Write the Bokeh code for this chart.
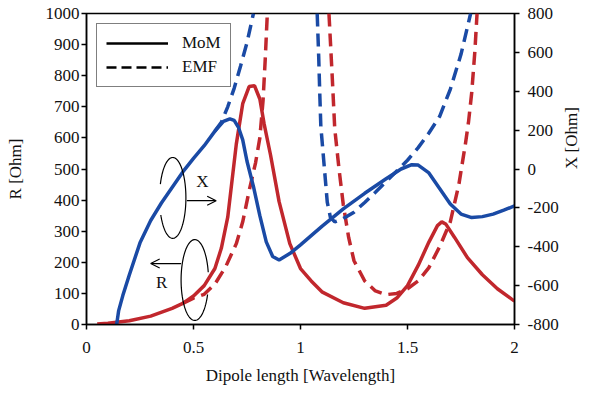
import numpy as np
from bokeh.plotting import figure
from bokeh.models import (Range1d, LinearAxis, FixedTicker, CustomJSTickFormatter,
                          Arrow, OpenHead, Label, Legend)
from bokeh.embed import file_html
from bokeh.resources import INLINE

# ---------------- data ----------------
# Resistance R [Ohm], MoM (solid red, left axis)
x_R_mom = [0.05, 0.1, 0.2, 0.3, 0.4, 0.45, 0.5, 0.55, 0.6, 0.63, 0.66, 0.7, 0.73, 0.76,
           0.785, 0.81, 0.83, 0.86, 0.9, 0.95, 1.0, 1.05, 1.1, 1.2, 1.3, 1.4, 1.45, 1.5,
           1.55, 1.6, 1.64, 1.66, 1.68, 1.72, 1.78, 1.85, 1.92, 2.0]
R_mom = [2, 4, 12, 27, 52, 68, 92, 125, 180, 245, 345, 580, 710, 765,
         768, 725, 645, 545, 395, 260, 180, 140, 105, 70, 52, 62, 85, 125,
         190, 265, 318, 330, 322, 280, 215, 160, 115, 75]

# Resistance R [Ohm], EMF (dashed red) - two branches
x_R_emf1 = [0.45, 0.5, 0.55, 0.6, 0.65, 0.7, 0.73, 0.76, 0.79, 0.81, 0.825, 0.835, 0.845]
R_emf1 = [68, 85, 97, 130, 185, 260, 330, 430, 520, 600, 720, 850, 1000]
x_R_emf2 = [1.133, 1.148, 1.16, 1.18, 1.2, 1.225, 1.25, 1.3, 1.35, 1.4, 1.45, 1.5, 1.55,
            1.6, 1.65, 1.7, 1.74, 1.77, 1.785, 1.8, 1.815, 1.825]
R_emf2 = [1000, 800, 630, 500, 385, 280, 205, 140, 108, 96, 100, 115, 140,
          183, 250, 330, 450, 578, 650, 745, 880, 1000]

# Reactance X [Ohm], MoM (solid blue, right axis)
x_X_mom = [0.141, 0.15, 0.17, 0.2, 0.25, 0.3, 0.35, 0.4, 0.45, 0.5, 0.55, 0.6, 0.64, 0.67,
           0.69, 0.71, 0.73, 0.75, 0.78, 0.81, 0.84, 0.87, 0.9, 0.95, 1.0, 1.1, 1.2, 1.3,
           1.4, 1.47, 1.52, 1.55, 1.6, 1.65, 1.7, 1.75, 1.8, 1.85, 1.9, 1.95, 2.0]
X_mom = [-800, -730, -650, -545, -380, -265, -175, -95, -15, 55, 120, 195, 245, 258,
         250, 215, 150, 40, -90, -240, -375, -450, -468, -435, -390, -295, -205, -125,
         -50, 0, 22, 20, -20, -100, -180, -232, -250, -245, -232, -212, -190]

# Reactance X [Ohm], EMF (dashed blue) - two branches
x_X_emf1 = [0.6, 0.63, 0.66, 0.69, 0.72, 0.75, 0.78]
X_emf1 = [195, 240, 320, 415, 530, 650, 800]
x_X_emf2 = [1.078, 1.085, 1.09, 1.095, 1.11, 1.125, 1.14, 1.16, 1.2, 1.25, 1.3, 1.35,
            1.4, 1.45, 1.5, 1.55, 1.6, 1.65, 1.7, 1.75, 1.795]
X_emf2 = [800, 580, 390, 220, 25, -170, -250, -272, -255, -222, -172, -120,
          -65, -10, 45, 110, 185, 270, 410, 590, 800]

x_ticks = [0, 0.5, 1, 1.5, 2]
R_ticks = [0, 100, 200, 300, 400, 500, 600, 700, 800, 900, 1000]
X_ticks = [-800, -600, -400, -200, 0, 200, 400, 600, 800]

# ---------------- styling ----------------
FONT = "Liberation Serif"
FS = "17px"
RED = "#c1272d"
BLUE = "#1a4aa5"
LW = 3.5
DASH = "13 7"

p = figure(width=594, height=394, output_backend="svg", toolbar_location=None,
           x_range=Range1d(0, 2), y_range=Range1d(0, 1000),
           min_border_left=86, min_border_right=80, min_border_top=13, min_border_bottom=70)
p.extra_y_ranges = {"xr": Range1d(-800, 800)}
p.xgrid.visible = False
p.ygrid.visible = False
p.outline_line_color = "black"
p.outline_line_width = 1.5
p.background_fill_color = "white"
p.border_fill_color = "white"

fmt = CustomJSTickFormatter(code="return String(tick);")


def style_axis(ax, ticks):
    ax.ticker = FixedTicker(ticks=ticks)
    ax.formatter = fmt
    ax.axis_line_color = "black"
    ax.axis_line_width = 1.5
    ax.major_tick_line_color = "black"
    ax.major_tick_line_width = 1.5
    ax.major_tick_in = 0
    ax.major_tick_out = 5
    ax.minor_tick_line_color = None
    ax.major_label_text_font = FONT
    ax.major_label_text_font_size = FS
    ax.major_label_text_color = "#111111"
    ax.axis_label_text_font = FONT
    ax.axis_label_text_font_size = FS
    ax.axis_label_text_font_style = "normal"
    ax.axis_label_text_color = "#111111"


xa = p.xaxis[0]
style_axis(xa, x_ticks)
xa.axis_label = "Dipole length [Wavelength]"
xa.major_label_standoff = 12
xa.axis_label_standoff = 10

ya = p.yaxis[0]
style_axis(ya, R_ticks)
ya.axis_label = "R [Ohm]"
ya.major_label_standoff = 2
ya.axis_label_standoff = 18

ra = LinearAxis(y_range_name="xr")
style_axis(ra, X_ticks)
ra.major_label_standoff = 8
ra.axis_label_standoff = 10
try:
    # numeric orientation: counter-clockwise quarter turn -> reads bottom-to-top
    ra.axis_label_orientation = float(np.pi / 2)
    ra.axis_label = "X [Ohm]"
except AttributeError:
    ra.axis_label = None
    p.add_layout(Label(x=495, y=154, x_units="screen", y_units="screen",
                       text="X [Ohm]", angle=float(np.pi / 2),
                       text_font=FONT, text_font_size=FS, text_color="#111111",
                       text_align="center", text_baseline="middle"))
p.add_layout(ra, "right")

# ---------------- curves ----------------
for xs, ys in [(x_R_emf1, R_emf1), (x_R_emf2, R_emf2)]:
    p.line(xs, ys, color=RED, line_width=LW, line_dash=DASH)
for xs, ys in [(x_X_emf1, X_emf1), (x_X_emf2, X_emf2)]:
    p.line(xs, ys, color=BLUE, line_width=LW, line_dash=DASH, y_range_name="xr")
p.line(x_R_mom, R_mom, color=RED, line_width=LW)
p.line(x_X_mom, X_mom, color=BLUE, line_width=LW, y_range_name="xr")

# ---------------- annotations (rotation symbols with arrows) ----------------
def open_ellipse(cx, cy, rx, ry, gap_from, gap_to):
    t = np.radians(np.linspace(gap_to, gap_from + 360, 120))
    return cx + rx * np.cos(t), cy + ry * np.sin(t)

ex, ey = open_ellipse(0.403, 407, 0.0615, 130, 160, 205)
p.line(ex, ey, color="black", line_width=1.2)
ex, ey = open_ellipse(0.506, 143, 0.064, 130, -21, 11)
p.line(ex, ey, color="black", line_width=1.2)

p.add_layout(Arrow(end=OpenHead(size=9, line_width=1.2, line_color="black"),
                   x_start=0.469, y_start=398, x_end=0.606, y_end=398,
                   line_width=1.2, line_color="black"))
p.add_layout(Arrow(end=OpenHead(size=9, line_width=1.2, line_color="black"),
                   x_start=0.442, y_start=196, x_end=0.30, y_end=196,
                   line_width=1.2, line_color="black"))
p.add_layout(Label(x=0.542, y=460, text="X", text_font=FONT, text_font_size=FS,
                   text_align="center", text_baseline="middle", text_color="#111111"))
p.add_layout(Label(x=0.351, y=134, text="R", text_font=FONT, text_font_size=FS,
                   text_align="center", text_baseline="middle", text_color="#111111"))

# ---------------- legend (black sample lines) ----------------
r_m = p.line([np.nan], [np.nan], color="black", line_width=2.5)
r_e = p.line([np.nan], [np.nan], color="black", line_width=2.5, line_dash="10 5")
legend = Legend(items=[("MoM", [r_m]), ("EMF", [r_e])], location="top_left",
                label_text_font=FONT, label_text_font_size=FS, label_text_color="#111111",
                glyph_width=62, glyph_height=20, label_height=20, spacing=4,
                padding=9, margin=10, label_standoff=14,
                border_line_color="black", border_line_width=1.5,
                background_fill_color="white", background_fill_alpha=1.0)
p.add_layout(legend)

open("out.html", "w").write(file_html(p, INLINE))
